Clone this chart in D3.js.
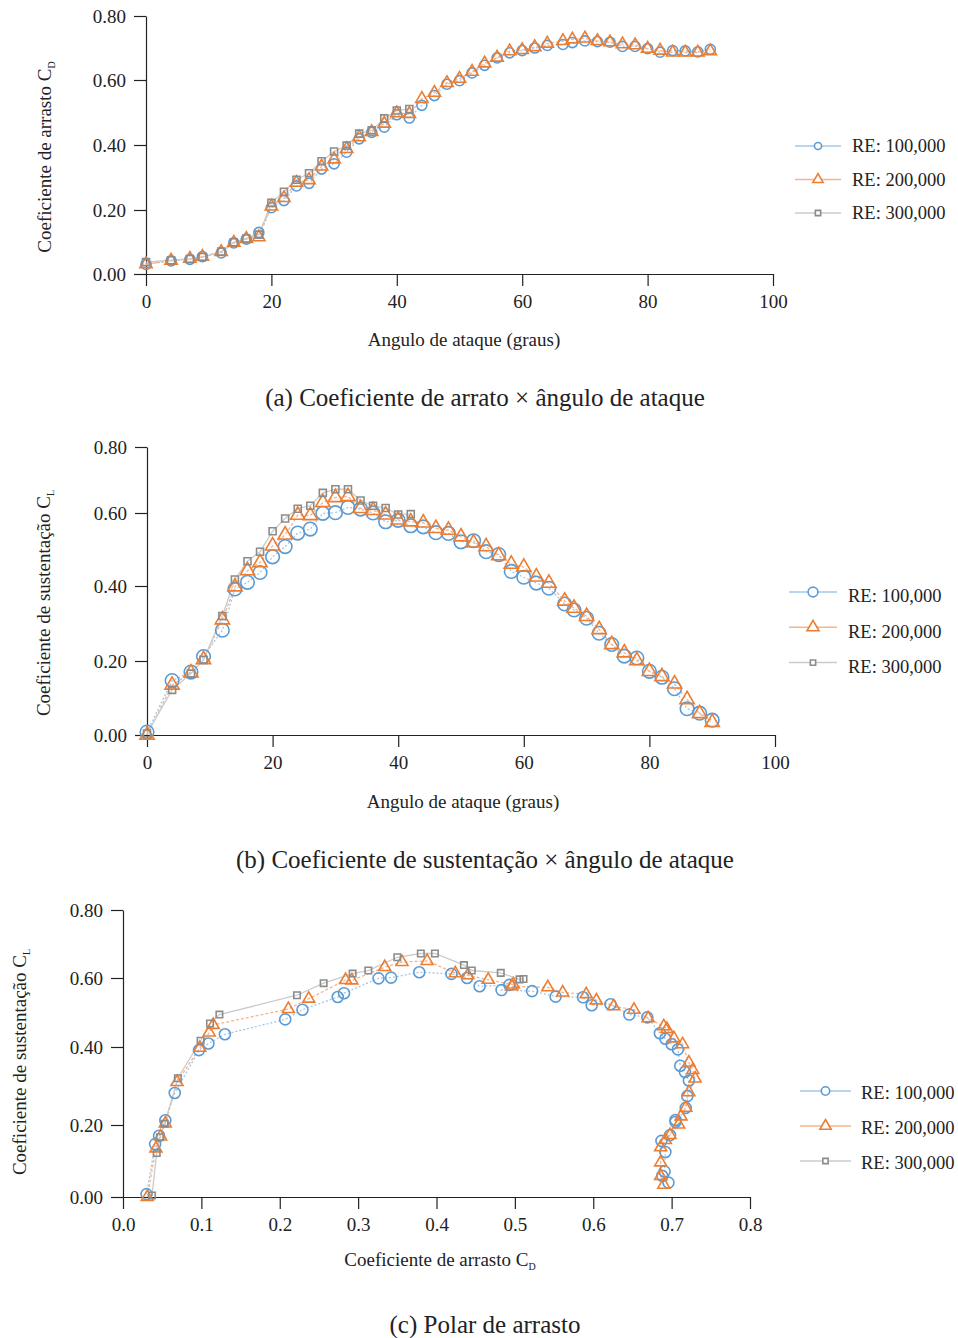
<!DOCTYPE html>
<html>
<head>
<meta charset="utf-8">
<script src="https://cdn.jsdelivr.net/npm/d3@7"></script>
<style>
  body { margin: 0; background: #fff; }
  svg text { font-family: "Liberation Serif", "Times New Roman", serif; fill: #222; }
</style>
</head>
<body>
<svg id="fig" width="958" height="1338"></svg>
<script>
// angle of attack (degrees)
const angles = [0, 4, 7, 9, 12, 14, 16, 18, 20, 22, 24, 26, 28, 30, 32, 34, 36, 38, 40, 42,
                44, 46, 48, 50, 52, 54, 56, 58, 60, 62, 64, 66.5, 68, 70, 72, 74, 76, 78, 80,
                82, 84, 86, 88, 90];
// RE 300,000 was only measured up to 42 degrees
const angles300 = [0, 4, 7, 9, 12, 14, 16, 18, 20, 22, 24, 26, 28, 30, 32, 34, 36, 38, 40, 42];

const cd100 = [0.030, 0.041, 0.046, 0.054, 0.066, 0.097, 0.109, 0.130, 0.207, 0.229, 0.274, 0.282,
               0.326, 0.342, 0.378, 0.419, 0.439, 0.455, 0.493, 0.483, 0.522, 0.552, 0.587, 0.598,
               0.622, 0.646, 0.669, 0.685, 0.692, 0.700, 0.708, 0.711, 0.717, 0.722, 0.720, 0.718,
               0.705, 0.705, 0.698, 0.687, 0.692, 0.691, 0.688, 0.696];
const cl100 = [0.008, 0.147, 0.170, 0.212, 0.282, 0.392, 0.410, 0.437, 0.480, 0.508, 0.545, 0.556,
               0.599, 0.601, 0.617, 0.612, 0.600, 0.576, 0.580, 0.565, 0.562, 0.546, 0.544, 0.521,
               0.524, 0.494, 0.486, 0.440, 0.424, 0.408, 0.394, 0.352, 0.336, 0.314, 0.274, 0.244,
               0.213, 0.208, 0.172, 0.156, 0.125, 0.071, 0.059, 0.040];

const cd200 = [0.031, 0.042, 0.048, 0.054, 0.069, 0.098, 0.110, 0.115, 0.211, 0.237, 0.284, 0.292,
               0.334, 0.356, 0.388, 0.424, 0.440, 0.466, 0.498, 0.496, 0.542, 0.561, 0.591, 0.604,
               0.626, 0.652, 0.670, 0.690, 0.694, 0.703, 0.714, 0.722, 0.727, 0.730, 0.722, 0.718,
               0.712, 0.709, 0.698, 0.692, 0.686, 0.686, 0.686, 0.690];
const cl200 = [0.000, 0.135, 0.168, 0.204, 0.310, 0.398, 0.442, 0.464, 0.510, 0.540, 0.594, 0.593,
               0.632, 0.647, 0.650, 0.614, 0.608, 0.595, 0.581, 0.576, 0.573, 0.558, 0.553, 0.535,
               0.518, 0.508, 0.483, 0.460, 0.452, 0.425, 0.408, 0.360, 0.341, 0.319, 0.284, 0.244,
               0.222, 0.201, 0.172, 0.158, 0.138, 0.096, 0.058, 0.034];

const cd300 = [0.037, 0.043, 0.047, 0.053, 0.070, 0.099, 0.111, 0.123, 0.222, 0.256, 0.293, 0.313,
               0.350, 0.380, 0.398, 0.435, 0.445, 0.482, 0.506, 0.511];
const cl300 = [0.004, 0.122, 0.166, 0.203, 0.320, 0.418, 0.468, 0.494, 0.550, 0.585, 0.613, 0.622,
               0.661, 0.672, 0.672, 0.638, 0.622, 0.615, 0.596, 0.597];

const legendLabels = ['RE: 100,000', 'RE: 200,000', 'RE: 300,000'];
const yTicks = [0, 0.2, 0.4, 0.6, 0.8];
const angleTicks = [0, 20, 40, 60, 80, 100];
const cdTicks = [0, 0.1, 0.2, 0.3, 0.4, 0.5, 0.6, 0.7, 0.8];

const styles = [
  {stroke: '#5b9bd5', line: '#a3c7e8', dash: '2,2', symbol: d3.symbolCircle},
  {stroke: '#ed7d31', line: '#f6b48c', dash: '3,2', symbol: d3.symbolTriangle},
  {stroke: '#8c8c8c', line: '#cbcbcb', dash: null, symbol: d3.symbolSquare}
];

const svg = d3.select('#fig');

function zipXY(xs, ys) {
  return xs.map((d, i) => [d, ys[i]]);
}

function drawPanel(cfg) {
  const g = svg.append('g');
  const x = d3.scaleLinear().domain(cfg.xDomain).range(cfg.xRange);
  const y = d3.scaleLinear().domain(yTicks).range(cfg.yRange);   // follows the printed tick spacing

  const xAxis = g.append('g')
      .attr('transform', `translate(0,${cfg.yRange[0]})`)
      .call(d3.axisBottom(x).tickValues(cfg.xTicks).tickFormat(cfg.xFormat)
            .tickSize(12).tickSizeOuter(0).tickPadding(9));
  const yAxis = g.append('g')
      .attr('transform', `translate(${cfg.xRange[0]},0)`)
      .call(d3.axisLeft(y).tickValues(yTicks).tickFormat(d3.format('.2f'))
            .tickSize(12).tickSizeOuter(0).tickPadding(8));
  [xAxis, yAxis].forEach(a => {
    a.selectAll('path, line').attr('stroke', '#222').attr('stroke-width', 1.2);
    a.selectAll('text').attr('font-size', 19).attr('fill', '#222')
      .attr('font-family', '"Liberation Serif", serif');
  });

  const line = d3.line().x(d => x(d[0])).y(d => y(d[1]));

  cfg.series.forEach((pts, i) => {
    const st = styles[i];
    g.append('path')
      .datum(pts)
      .attr('d', line)
      .attr('fill', 'none')
      .attr('stroke', st.line)
      .attr('stroke-width', 1.3)
      .attr('stroke-dasharray', st.dash);
  });
  cfg.series.forEach((pts, i) => {
    const st = styles[i];
    const sym = d3.symbol().type(st.symbol).size(cfg.sizes[i]);
    g.selectAll(null)
      .data(pts)
      .enter()
      .append('path')
      .attr('d', sym)
      .attr('transform', d => `translate(${x(d[0])},${y(d[1])})`)
      .attr('fill', 'none')
      .attr('stroke', st.stroke)
      .attr('stroke-width', 1.6);
  });

  // legend
  const lg = cfg.legend;
  legendLabels.forEach((lab, i) => {
    const st = styles[i];
    const ly = lg.y + i * lg.dy;
    g.append('line')
      .attr('x1', lg.x).attr('x2', lg.x + lg.len)
      .attr('y1', ly).attr('y2', ly)
      .attr('stroke', st.line).attr('stroke-width', 1.5);
    g.append('path')
      .attr('d', d3.symbol().type(st.symbol).size(lg.sizes[i]))
      .attr('transform', `translate(${lg.x + lg.len / 2},${ly})`)
      .attr('fill', '#fff')
      .attr('stroke', st.stroke)
      .attr('stroke-width', 1.6);
    g.append('text')
      .attr('x', lg.tx).attr('y', ly + lg.textOff)
      .attr('dy', '0.35em')
      .attr('font-size', 18.5)
      .text(lab);
  });

  // axis titles
  const xt = g.append('text')
      .attr('x', cfg.xLabel.x).attr('y', cfg.xLabel.y)
      .attr('text-anchor', 'middle')
      .attr('font-size', 19)
      .text(cfg.xLabel.text);
  if (cfg.xLabel.sub) {
    xt.append('tspan').attr('font-size', 10).attr('dy', 4).text(cfg.xLabel.sub);
  }
  const yt = g.append('text')
      .attr('transform', `translate(${cfg.yLabel.x},${cfg.yLabel.y}) rotate(-90)`)
      .attr('text-anchor', 'middle')
      .attr('font-size', 19)
      .text(cfg.yLabel.text);
  yt.append('tspan').attr('font-size', 10).attr('dy', 4).text(cfg.yLabel.sub);

  g.append('text')
    .attr('x', 485).attr('y', cfg.title.y)
    .attr('text-anchor', 'middle')
    .attr('font-size', 25)
    .text(cfg.title.text);
}

// (a) drag vs angle
drawPanel({
  xDomain: [0, 100], xRange: [146, 773], yRange: [274, 210, 145, 80, 16],
  xTicks: angleTicks, xFormat: d3.format('d'),
  series: [zipXY(angles, cd100), zipXY(angles, cd200), zipXY(angles300, cd300)],
  sizes: [80, 66, 49],
  legend: {x: 795, len: 46, y: 146, dy: 33.5, tx: 852, textOff: 0, sizes: [40, 45, 28]},
  xLabel: {x: 464, y: 346, text: 'Angulo de ataque (graus)'},
  yLabel: {x: 51, y: 157, text: 'Coeficiente de arrasto C', sub: 'D'},
  title: {y: 406, text: '(a) Coeficiente de arrato \u00d7 \u00e2ngulo de ataque'}
});

// (b) lift vs angle
drawPanel({
  xDomain: [0, 100], xRange: [147, 775], yRange: [735, 661, 586, 513, 447],
  xTicks: angleTicks, xFormat: d3.format('d'),
  series: [zipXY(angles, cl100), zipXY(angles, cl200), zipXY(angles300, cl300)],
  sizes: [145, 88, 49],
  legend: {x: 789, len: 48, y: 592, dy: 35.3, tx: 848, textOff: 4, sizes: [75, 62, 28]},
  xLabel: {x: 463, y: 808, text: 'Angulo de ataque (graus)'},
  yLabel: {x: 50, y: 603, text: 'Coeficiente de sustenta\u00e7\u00e3o C', sub: 'L'},
  title: {y: 868, text: '(b) Coeficiente de sustenta\u00e7\u00e3o \u00d7 \u00e2ngulo de ataque'}
});

// (c) drag polar
drawPanel({
  xDomain: [0, 0.8], xRange: [123, 750], yRange: [1197, 1125, 1047, 978, 910],
  xTicks: cdTicks, xFormat: d3.format('.1f'),
  series: [zipXY(cd100, cl100), zipXY(cd200, cl200), zipXY(cd300, cl300)],
  sizes: [95, 62, 42],
  legend: {x: 800, len: 51, y: 1091, dy: 35, tx: 861, textOff: 2, sizes: [55, 55, 28]},
  xLabel: {x: 440, y: 1266, text: 'Coeficiente de arrasto C', sub: 'D'},
  yLabel: {x: 26, y: 1062, text: 'Coeficiente de sustenta\u00e7\u00e3o C', sub: 'L'},
  title: {y: 1333, text: '(c) Polar de arrasto'}
});
</script>
</body>
</html>
